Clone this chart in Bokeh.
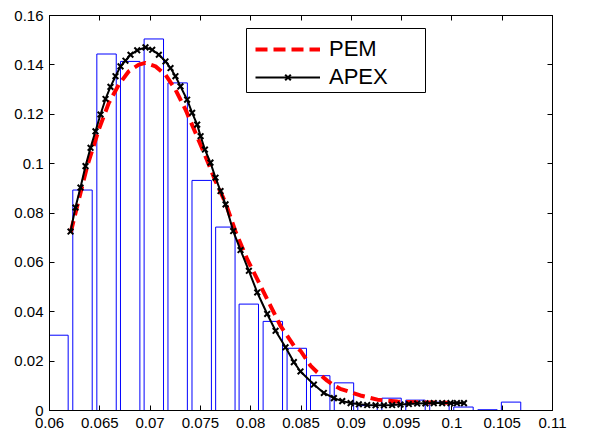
from bokeh.plotting import figure
from bokeh.models import Range1d, FixedTicker, LinearAxis, Legend, LegendItem, BoxAnnotation
from bokeh.embed import file_html
from bokeh.resources import INLINE

# ---------------- data ----------------
bin_centers = [0.06089, 0.06328, 0.06567, 0.06802, 0.07037, 0.07274, 0.07513,
               0.07748, 0.07981, 0.08220, 0.08458, 0.08691, 0.08927, 0.09161,
               0.09400, 0.09638, 0.09876, 0.10115, 0.10354, 0.10588]
bin_heights = [0.0305, 0.0893, 0.1444, 0.1414, 0.1505, 0.1327, 0.0932,
               0.0743, 0.0431, 0.0361, 0.0252, 0.0141, 0.0112, 0.0020,
               0.0050, 0.0042, 0.0034, 0.0014, 0.0003, 0.0034]

pem_x = [0.0621, 0.06292, 0.06375, 0.0649, 0.0659, 0.06689, 0.06788, 0.06888,
         0.06954, 0.07054, 0.07153, 0.07252, 0.07352, 0.07451, 0.0755, 0.0765,
         0.07749, 0.07849, 0.07965, 0.08065, 0.08197, 0.08296, 0.08429, 0.08495,
         0.08594, 0.08661, 0.0876, 0.08827, 0.0889, 0.0909, 0.0926, 0.0946,
         0.09655, 0.0982, 0.0997]
pem_y = [0.0720, 0.0855, 0.0990, 0.1138, 0.1246, 0.1320, 0.1374, 0.1401,
         0.1408, 0.1394, 0.1360, 0.1300, 0.1219, 0.1125, 0.1030, 0.0929,
         0.0842, 0.0725, 0.0613, 0.0532, 0.0424, 0.0343, 0.0263, 0.0242,
         0.0182, 0.0155, 0.0121, 0.0101, 0.0088, 0.0061, 0.0044, 0.0036,
         0.0033, 0.0032, 0.0031]

apex_x = [0.06209, 0.06258, 0.06308, 0.06358, 0.06408, 0.06457, 0.06507, 0.06557,
          0.06606, 0.06656, 0.06706, 0.06755, 0.06805, 0.06872, 0.06954, 0.07021,
          0.07087, 0.07153, 0.07203, 0.07252, 0.07302, 0.07368, 0.07418, 0.07468,
          0.07502, 0.07545, 0.07600, 0.07650, 0.07700, 0.07750, 0.07826, 0.07899,
          0.07982, 0.08065, 0.08164, 0.08247, 0.08346, 0.08429, 0.08495, 0.08628,
          0.08727, 0.08827, 0.08910, 0.08993, 0.09075, 0.09158, 0.09241, 0.09324,
          0.09406, 0.09489, 0.09572, 0.09655, 0.09737, 0.09820, 0.09903, 0.09986,
          0.10050, 0.10120]
apex_y = [0.0725, 0.0822, 0.0903, 0.0990, 0.1064, 0.1131, 0.1199, 0.1262,
          0.1311, 0.1354, 0.1394, 0.1417, 0.1441, 0.1459, 0.1471, 0.1461,
          0.1441, 0.1414, 0.1387, 0.1354, 0.1313, 0.1259, 0.1206, 0.1158,
          0.1111, 0.1057, 0.1004, 0.0943, 0.0889, 0.0835, 0.0727, 0.0650,
          0.0566, 0.0478, 0.0391, 0.0323, 0.0256, 0.0196, 0.0158, 0.0105,
          0.0071, 0.0050, 0.0038, 0.0030, 0.0025, 0.0022, 0.0021, 0.0021,
          0.0022, 0.0024, 0.0026, 0.0028, 0.0029, 0.0030, 0.0030, 0.0030,
          0.0030, 0.0030]

x_ticks = [0.06, 0.065, 0.07, 0.075, 0.08, 0.085, 0.09, 0.095, 0.1, 0.105, 0.11]
x_tick_labels = ["0.06", "0.065", "0.07", "0.075", "0.08", "0.085", "0.09",
                 "0.095", "0.1", "0.105", "0.11"]
y_ticks = [0, 0.02, 0.04, 0.06, 0.08, 0.1, 0.12, 0.14, 0.16]
y_tick_labels = ["0", "0.02", "0.04", "0.06", "0.08", "0.1", "0.12", "0.14", "0.16"]

series_names = ["PEM", "APEX"]

# ---------------- layout / styles ----------------
BAR_WIDTH = 0.00193
FONT = "Liberation Sans"
W, H = 568, 434
B_LEFT, B_RIGHT, B_TOP, B_BOTTOM = 49, 16, 15, 24
FRAME_H = H - B_TOP - B_BOTTOM

p = figure(width=W, height=H,
           x_range=Range1d(0.06, 0.11), y_range=Range1d(0, 0.16),
           output_backend="svg", toolbar_location=None,
           min_border_left=B_LEFT, min_border_right=B_RIGHT,
           min_border_top=B_TOP, min_border_bottom=B_BOTTOM)
p.background_fill_color = "white"
p.border_fill_color = "white"
p.outline_line_color = "black"
p.outline_line_width = 1
p.xgrid.visible = False
p.ygrid.visible = False


def style_axis(ax, ticks, labels, show_labels, standoff):
    ax.ticker = FixedTicker(ticks=ticks)
    ax.axis_line_color = "black"
    ax.axis_line_width = 1
    ax.major_tick_in = 5
    ax.major_tick_out = 0
    ax.major_tick_line_color = "black"
    ax.major_tick_line_width = 1
    ax.minor_tick_line_color = None
    ax.major_label_text_font = FONT
    ax.major_label_standoff = standoff
    if show_labels:
        ax.major_label_overrides = dict(zip(ticks, labels))
        ax.major_label_text_color = "black"
        ax.major_label_text_font_size = "15px"
    else:
        ax.major_label_text_color = None
        ax.major_label_text_font_size = "1px"


style_axis(p.xaxis[0], x_ticks, x_tick_labels, True, 7)
style_axis(p.yaxis[0], y_ticks, y_tick_labels, True, 6)

top_axis = LinearAxis()
style_axis(top_axis, x_ticks, x_tick_labels, False, 0)
p.add_layout(top_axis, "above")
right_axis = LinearAxis()
style_axis(right_axis, y_ticks, y_tick_labels, False, 0)
p.add_layout(right_axis, "right")

# histogram
p.vbar(x=bin_centers, top=bin_heights, bottom=0, width=BAR_WIDTH,
       fill_color=None, line_color="#0000ff", line_width=1)

# PEM
r_pem = p.line(pem_x, pem_y, line_color="#ff0000", line_width=4,
               line_dash="12 6")

# APEX
r_apex_line = p.line(apex_x, apex_y, line_color="black", line_width=2)
r_apex_mark = p.scatter(apex_x, apex_y, marker="x", size=8,
                        line_color="black", line_width=2)

# legend frame (screen units relative to the plot frame, y from bottom)
legend_box = BoxAnnotation(left=197, right=376,
                           bottom=FRAME_H - (92 - B_TOP), top=FRAME_H - (28 - B_TOP),
                           left_units="screen", right_units="screen",
                           top_units="screen", bottom_units="screen",
                           fill_color="white", fill_alpha=1,
                           line_color="black", line_width=1, line_alpha=1)
p.add_layout(legend_box)

legend = Legend(items=[LegendItem(label=series_names[0], renderers=[r_pem]),
                       LegendItem(label=series_names[1],
                                  renderers=[r_apex_line, r_apex_mark])],
                location=(206, FRAME_H - (26 - B_TOP) - 64))
legend.label_text_font = FONT
legend.label_text_font_size = "22px"
legend.label_text_color = "black"
legend.glyph_width = 65
legend.glyph_height = 20
legend.label_standoff = 9
legend.padding = 4
legend.spacing = 2
legend.margin = 0
legend.border_line_color = None
legend.background_fill_alpha = 0
p.add_layout(legend)

open("out.html", "w").write(file_html(p, INLINE))
